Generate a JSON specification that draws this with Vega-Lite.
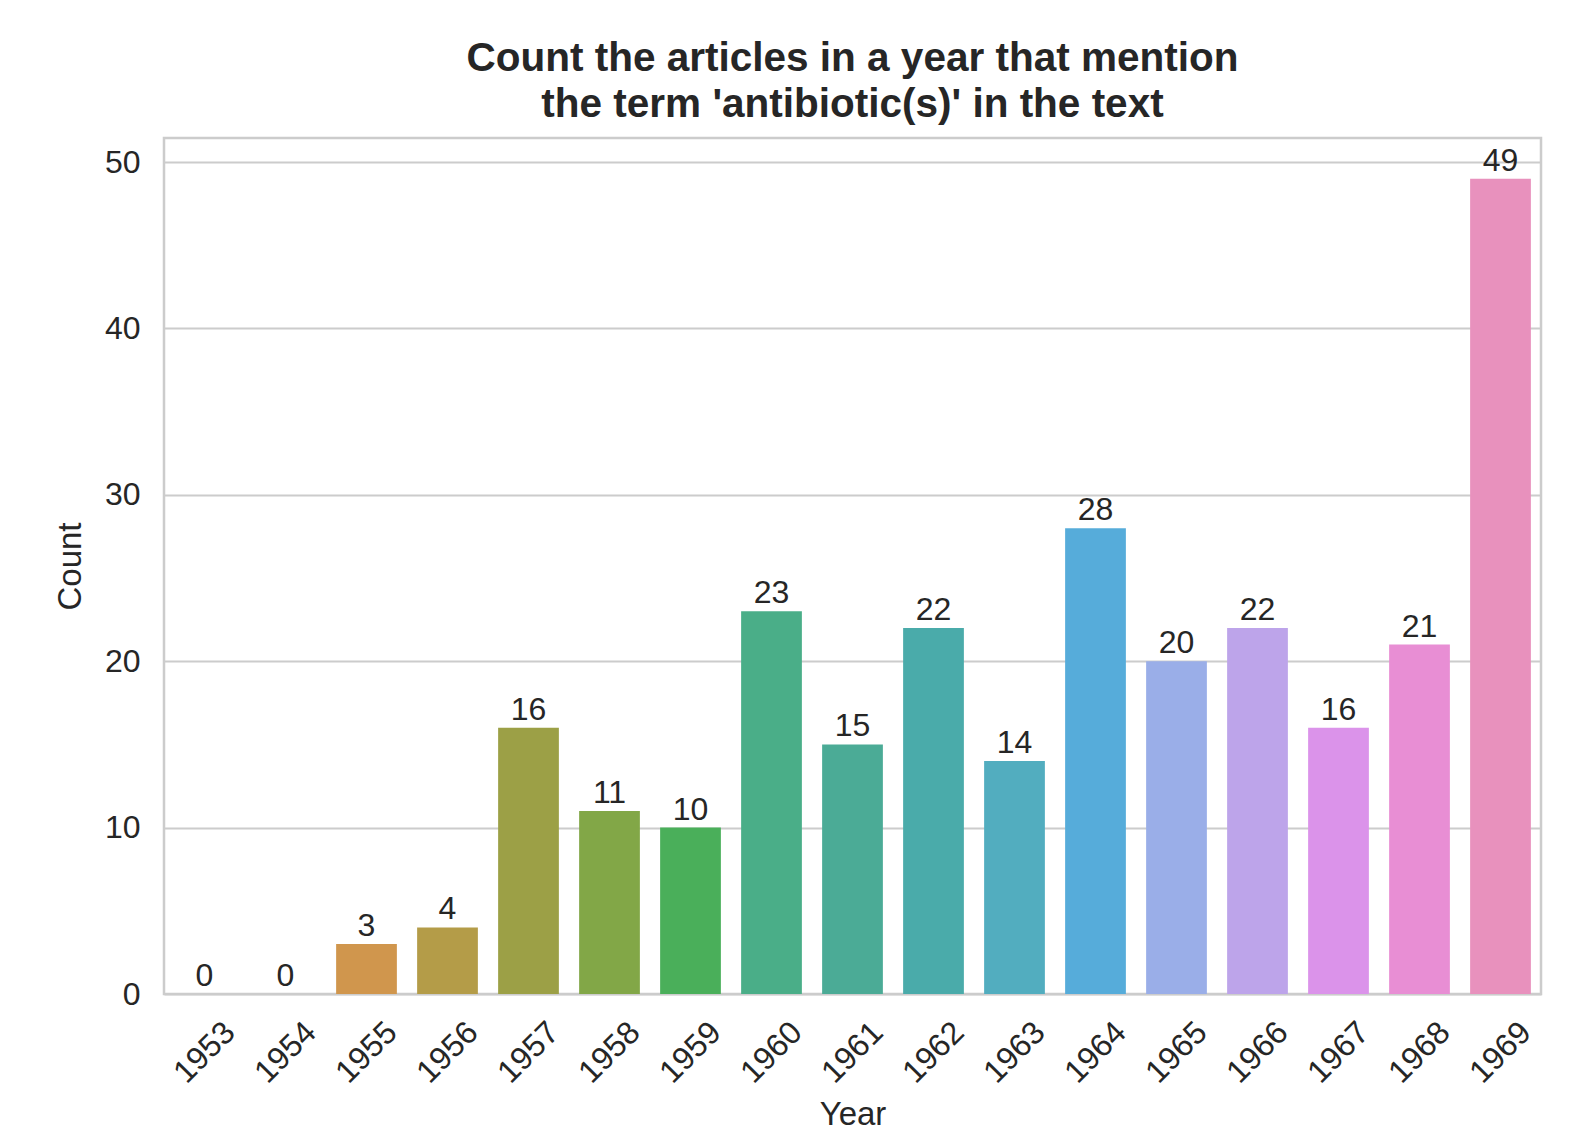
{
  "$schema": "https://vega.github.io/schema/vega-lite/v6.json",
  "width": 1377,
  "height": 856,
  "autosize": {"type": "none"},
  "padding": {"left": 164, "top": 138, "right": 44, "bottom": 140},
  "background": "white",
  "config": {
    "font": "Liberation Sans",
    "view": {"stroke": "#cccccc", "strokeWidth": 2.5},
    "axis": {"labelColor": "#262626", "titleColor": "#262626", "labelFont": "Liberation Sans", "titleFont": "Liberation Sans", "titleFontWeight": "normal"}
  },
  "title": {
    "text": ["Count the articles in a year that mention", "the term 'antibiotic(s)' in the text"],
    "fontSize": 40.5,
    "fontWeight": "bold",
    "color": "#262626",
    "lineHeight": 46,
    "offset": 13,
    "anchor": "middle"
  },
  "data": {
    "values": [
      {"year": "1953", "count": 0},
      {"year": "1954", "count": 0},
      {"year": "1955", "count": 3},
      {"year": "1956", "count": 4},
      {"year": "1957", "count": 16},
      {"year": "1958", "count": 11},
      {"year": "1959", "count": 10},
      {"year": "1960", "count": 23},
      {"year": "1961", "count": 15},
      {"year": "1962", "count": 22},
      {"year": "1963", "count": 14},
      {"year": "1964", "count": 28},
      {"year": "1965", "count": 20},
      {"year": "1966", "count": 22},
      {"year": "1967", "count": 16},
      {"year": "1968", "count": 21},
      {"year": "1969", "count": 49}
    ]
  },
  "encoding": {
    "x": {
      "field": "year",
      "type": "nominal",
      "sort": null,
      "scale": {"paddingInner": 0.25, "paddingOuter": 0.125},
      "axis": {
        "title": "Year",
        "titleFontSize": 33,
        "titleBaseline": "top",
        "titleY": 104,
        "labelFontSize": 32,
        "labelAngle": -45,
        "labelAlign": "center",
        "labelBaseline": "middle",
        "labelPadding": 58,
        "ticks": false,
        "domain": false,
        "grid": false
      }
    },
    "y": {
      "field": "count",
      "type": "quantitative",
      "scale": {"domain": [0, 51.45], "nice": false, "zero": true},
      "axis": {
        "title": "Count",
        "titleFontSize": 33,
        "titleBaseline": "middle",
        "titleX": -94,
        "titleY": 428,
        "values": [0, 10, 20, 30, 40, 50],
        "labelFontSize": 32,
        "labelPadding": 24,
        "ticks": false,
        "domain": false,
        "grid": true,
        "gridColor": "#cccccc",
        "gridWidth": 2.2
      }
    }
  },
  "layer": [
    {
      "mark": {"type": "bar"},
      "encoding": {
        "color": {
          "field": "year",
          "type": "nominal",
          "sort": null,
          "legend": null,
          "scale": {
            "range": ["#e58791", "#dc8c52", "#d0964d", "#b49c48", "#9ca046", "#82a747", "#4aaf5a", "#4aae88", "#4bab96", "#4aabaa", "#52adbf", "#56acda", "#9aaee8", "#bda4ea", "#db93ea", "#e88ed4", "#e891bd"]
          }
        }
      }
    },
    {
      "mark": {"type": "text", "baseline": "alphabetic", "dy": -8, "fontSize": 32, "color": "#262626", "font": "Liberation Sans"},
      "encoding": {
        "text": {"field": "count", "type": "quantitative"}
      }
    }
  ]
}
